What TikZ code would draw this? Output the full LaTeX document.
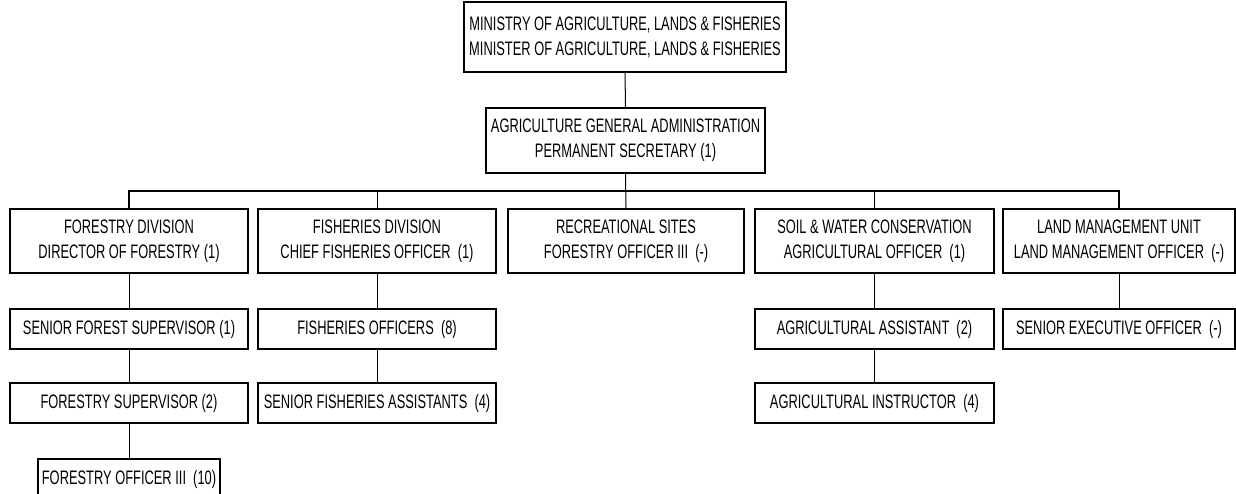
\documentclass[tikz,border=0pt]{standalone}
\usepackage{fontspec}
\setmainfont[FakeStretch=0.66]{Liberation Sans}
\begin{document}
\begin{tikzpicture}[x=1pt,y=-1pt,
  box/.style={draw=black,line width=1.8pt,rectangle,inner sep=0pt,align=center,
    font=\fontsize{19.5}{25}\selectfont,text=black},
  conn/.style={draw=black,line width=1pt},
  busline/.style={draw=black,line width=1.6pt}]
\useasboundingbox (0,0) rectangle (1236,493);
% top levels
\node[box,minimum width=322pt,minimum height=70pt] (min) at (625,37)
  {MINISTRY OF AGRICULTURE, LANDS \& FISHERIES\\MINISTER OF AGRICULTURE, LANDS \& FISHERIES};
\node[box,minimum width=279pt,minimum height=65pt] (adm) at (625.5,140.5)
  {AGRICULTURE GENERAL ADMINISTRATION\\PERMANENT SECRETARY (1)};
% divisions
\node[box,minimum width=238pt,minimum height=64pt] (fd) at (129,241)
  {FORESTRY DIVISION\\DIRECTOR OF FORESTRY (1)};
\node[box,minimum width=238pt,minimum height=64pt] (fi) at (377,241)
  {FISHERIES DIVISION\\CHIEF FISHERIES OFFICER~~(1)};
\node[box,minimum width=236pt,minimum height=64pt] (rec) at (626,241)
  {RECREATIONAL SITES\\FORESTRY OFFICER III~~(-)};
\node[box,minimum width=239pt,minimum height=64pt] (soil) at (874.5,241)
  {SOIL \& WATER CONSERVATION\\AGRICULTURAL OFFICER~~(1)};
\node[box,minimum width=232pt,minimum height=64pt] (land) at (1119,241)
  {LAND MANAGEMENT UNIT\\LAND MANAGEMENT OFFICER~~(-)};
% second level
\node[box,minimum width=238pt,minimum height=40pt] (sfs) at (129,329) {SENIOR FOREST SUPERVISOR (1)};
\node[box,minimum width=238pt,minimum height=40pt] (fo) at (377,329) {FISHERIES OFFICERS~~(8)};
\node[box,minimum width=239pt,minimum height=40pt] (aa) at (874.5,329) {AGRICULTURAL ASSISTANT~~(2)};
\node[box,minimum width=232pt,minimum height=40pt] (seo) at (1119,329) {SENIOR EXECUTIVE OFFICER~~(-)};
% third level
\node[box,minimum width=238pt,minimum height=40pt] (fs) at (129,403) {FORESTRY SUPERVISOR (2)};
\node[box,minimum width=238pt,minimum height=40pt] (sfa) at (377,403) {SENIOR FISHERIES ASSISTANTS~~(4)};
\node[box,minimum width=239pt,minimum height=40pt] (ai) at (874.5,403) {AGRICULTURAL INSTRUCTOR~~(4)};
% fourth level
\node[box,minimum width=182pt,minimum height=40pt] (fo3) at (129,479) {FORESTRY OFFICER III~~(10)};
% connectors
\coordinate (bus) at (626,191);
\draw[conn] (min.south) -- (adm.north);
\draw[conn] (adm.south) -- (rec.north);
\draw[busline] (fd.north) -- (fd.north |- bus) -- (land.north |- bus) -- (land.north);
\draw[conn] (fi.north) -- (fi.north |- bus);
\draw[conn] (soil.north) -- (soil.north |- bus);
\draw[conn] (fd.south) -- (sfs.north);
\draw[conn] (sfs.south) -- (fs.north);
\draw[conn] (fs.south) -- (fo3.north);
\draw[conn] (fi.south) -- (fo.north);
\draw[conn] (fo.south) -- (sfa.north);
\draw[conn] (soil.south) -- (aa.north);
\draw[conn] (aa.south) -- (ai.north);
\draw[conn] (land.south) -- (seo.north);
\end{tikzpicture}
\end{document}
